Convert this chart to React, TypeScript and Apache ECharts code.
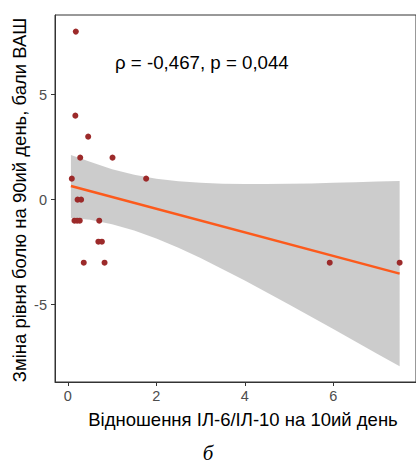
import React, { useEffect, useRef } from "react";
import * as echarts from "echarts";

// Observed points: IL-6/IL-10 ratio (day 10) vs change in VAS pain score (day 90)
const ratioX = [0.18, 0.17, 0.46, 0.28, 1.01, 0.09, 1.77, 0.22, 0.3, 0.15, 0.21, 0.27, 0.71, 0.69, 0.77, 0.36, 0.83, 5.92, 7.5];
const painChange = [8, 4, 3, 2, 2, 1, 1, 0, 0, -1, -1, -1, -1, -2, -2, -3, -3, -3, -3];

// Regression line end points
const regX = [0.07, 7.5];
const regY = [0.65, -3.52];

// Confidence band
const bandX = [0.07, 0.5, 1.0, 1.5, 2.0, 2.5, 3.0, 3.5, 4.0, 4.5, 5.0, 5.5, 6.0, 6.5, 7.0, 7.5];
const bandUpper = [2.13, 1.8, 1.45, 1.18, 1.0, 0.88, 0.8, 0.76, 0.75, 0.75, 0.76, 0.77, 0.8, 0.83, 0.86, 0.89];
const bandLower = [-0.87, -0.96, -1.17, -1.47, -1.85, -2.29, -2.78, -3.31, -3.85, -4.42, -4.99, -5.57, -6.16, -6.75, -7.35, -7.93];

const xTicks = [0, 2, 4, 6];
const yTicks = [-5, 0, 5];

const annotation = "ρ = -0,467, p = 0,044";
const xTitle = "Відношення ІЛ-6/ІЛ-10 на 10ий день";
const yTitle = "Зміна рівня болю на 90ий день, бали ВАШ";
const panelLabel = "б";

const FONT = "'Liberation Sans', Arial, sans-serif";

export default function App() {
  const ref = useRef<HTMLDivElement>(null);
  useEffect(() => {
    if (!ref.current) return;
    const chart = echarts.init(ref.current, undefined, { renderer: "svg" });
    const points = ratioX.map((x, i) => [x, painChange[i]]);
    chart.setOption({
      animation: false,
      backgroundColor: "#ffffff",
      grid: {
        left: 55,
        top: 15,
        width: 369,
        height: 367,
        show: true,
        borderColor: "#333333",
        borderWidth: 1,
        backgroundColor: "transparent",
      },
      xAxis: {
        type: "value",
        min: -0.29,
        max: 7.87,
        splitLine: { show: false },
        axisLine: { show: true, onZero: false, lineStyle: { color: "#333333", width: 1 } },
        axisTick: {
          show: true,
          length: 4,
          lineStyle: { color: "#333333" },
          customValues: xTicks,
        },
        axisLabel: {
          color: "#4D4D4D",
          fontSize: 14.5,
          fontFamily: FONT,
          margin: 6,
          customValues: xTicks,
          showMinLabel: true,
          showMaxLabel: true,
        },
      },
      yAxis: {
        type: "value",
        min: -8.68,
        max: 8.79,
        splitLine: { show: false },
        axisLine: { show: true, onZero: false, lineStyle: { color: "#333333", width: 1 } },
        axisTick: {
          show: true,
          length: 4,
          lineStyle: { color: "#333333" },
          customValues: yTicks,
        },
        axisLabel: {
          color: "#4D4D4D",
          fontSize: 14.5,
          fontFamily: FONT,
          margin: 8,
          customValues: yTicks,
        },
      },
      series: [
        {
          type: "scatter",
          data: points,
          symbol: "circle",
          symbolSize: 6,
          itemStyle: { color: "#9C2A2A", opacity: 1 },
          silent: true,
        },
        {
          type: "custom",
          silent: true,
          clip: true,
          data: [[bandX[0], bandUpper[0]]],
          renderItem: (params: any, api: any) => {
            if (params.dataIndex !== 0) return null;
            const pts: number[][] = [];
            for (let i = 0; i < bandX.length; i++) pts.push(api.coord([bandX[i], bandUpper[i]]));
            for (let i = bandX.length - 1; i >= 0; i--) pts.push(api.coord([bandX[i], bandLower[i]]));
            return {
              type: "polygon",
              shape: { points: pts },
              style: { fill: "rgba(153,153,153,0.5)", stroke: "none" },
            };
          },
        },
        {
          type: "line",
          data: regX.map((x, i) => [x, regY[i]]),
          symbol: "none",
          lineStyle: { color: "#FC5A1C", width: 2.5 },
          silent: true,
        },
      ],
      graphic: [
        {
          type: "text",
          x: 115,
          y: 62,
          style: {
            text: annotation,
            font: `18.7px ${FONT}`,
            fill: "#000000",
            textAlign: "left",
            textVerticalAlign: "middle",
          },
        },
        {
          type: "text",
          x: 243,
          y: 419,
          style: {
            text: xTitle,
            font: `18.5px ${FONT}`,
            fill: "#000000",
            textAlign: "center",
            textVerticalAlign: "middle",
          },
        },
        {
          type: "text",
          x: 19,
          y: 200,
          rotation: Math.PI / 2,
          style: {
            text: yTitle,
            font: `18.5px ${FONT}`,
            fill: "#000000",
            textAlign: "center",
            textVerticalAlign: "middle",
          },
        },
        {
          type: "text",
          x: 208,
          y: 453,
          style: {
            text: panelLabel,
            font: `italic 21px 'Liberation Serif', 'Times New Roman', serif`,
            fill: "#000000",
            textAlign: "center",
            textVerticalAlign: "middle",
          },
        },
      ],
    });
    return () => chart.dispose();
  }, []);
  return (
    <div
      ref={ref}
      style={{ position: "fixed", left: 0, top: 0, width: 416, height: 466 }}
    />
  );
}
